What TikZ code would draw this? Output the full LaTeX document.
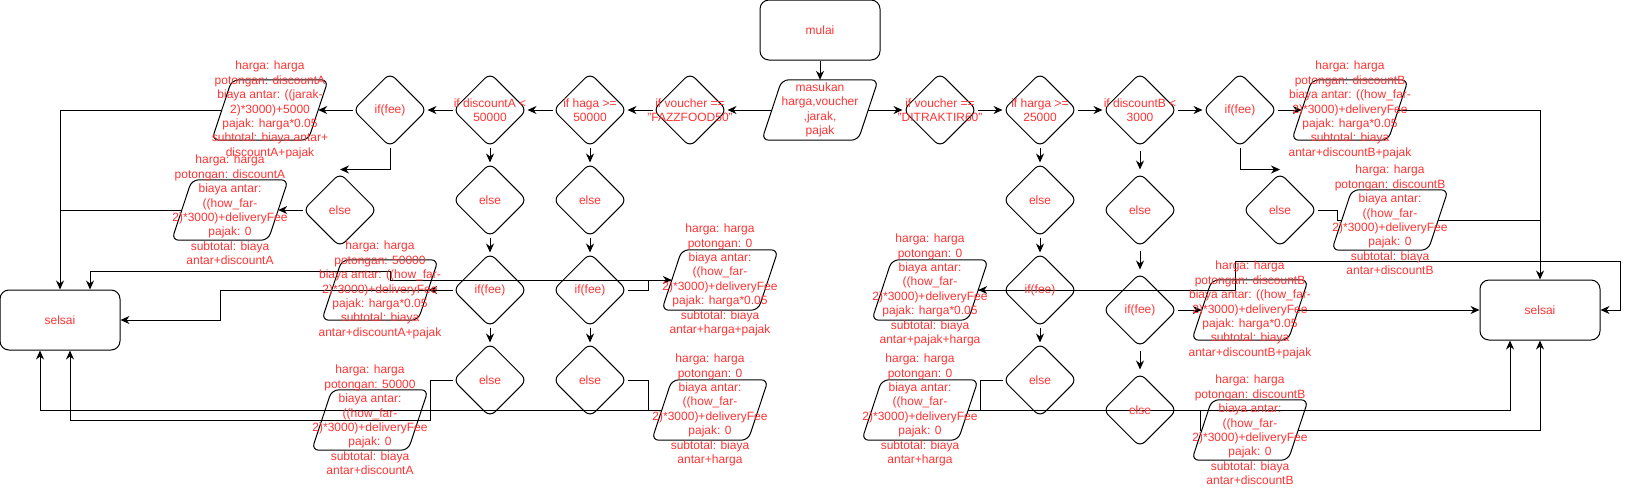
\documentclass[tikz,border=0pt]{standalone}
\usepackage{fontspec}
\setmainfont{Liberation Sans}
\usetikzlibrary{shapes.geometric,arrows.meta}
\definecolor{txtred}{RGB}{255,51,51}
\newcommand\paraoutline[1]{\draw[line width=1pt, rounded corners=7pt] (#1.north) -- ([xshift=10pt]#1.north east) -- ([xshift=-10pt]#1.south east) -- ([xshift=-10pt]#1.south west) -- ([xshift=10pt]#1.north west) -- cycle;}
\begin{document}
\begin{tikzpicture}[x=1pt,y=-1pt,
  box/.style={draw, line width=1pt, rounded corners=9pt, minimum width=120pt, minimum height=60pt, inner sep=0pt, text=txtred, font=\fontsize{12}{14.4}\selectfont},
  dia/.style={draw, line width=1pt, diamond, rounded corners=7pt, minimum width=74pt, minimum height=74pt, inner sep=0pt},
  para/.style={rectangle, minimum width=96pt, minimum height=60pt, inner sep=0pt},
  txt/.style={text=txtred, font=\fontsize{12}{14.4}\selectfont, align=center, inner sep=0pt},
  arr/.style={line width=1pt, -{Stealth[length=9pt,width=8pt]}},
  ln/.style={line width=1pt},
]
\useasboundingbox (0,0) rectangle (1629,488);
% terminals
\node[box] (mulai) at (820,30) {mulai};
\node[box] (selA) at (60,320) {selsai};
\node[box] (selB) at (1540,310) {selsai};
% input
\node[para] (inp) at (820,110) {};
% left decision row
\node[dia] (dFazz) at (690,110) {};
\node[dia] (dHaga) at (590,110) {};
\node[dia] (dDiscA) at (490,110) {};
\node[dia] (dFeeA) at (390,110) {};
\node[para] (a1) at (270,110) {};
\node[dia] (eA) at (340,210) {};
\node[para] (a2) at (230,210) {};
\node[dia] (eA2) at (490,200) {};
\node[dia] (fA2) at (490,290) {};
\node[dia] (eA3) at (490,380) {};
\node[dia] (eH1) at (590,200) {};
\node[dia] (fH) at (590,290) {};
\node[dia] (eH2) at (590,380) {};
\node[para] (a3) at (380,290) {};
\node[para] (a4) at (370,420) {};
\node[para] (c1) at (720,280) {};
\node[para] (c2) at (710,410) {};
% right decision row
\node[dia] (dDit) at (940,110) {};
\node[dia] (dHarga) at (1040,110) {};
\node[dia] (dDiscB) at (1140,110) {};
\node[dia] (dFeeB) at (1240,110) {};
\node[para] (b1) at (1350,110) {};
\node[dia] (eB) at (1280,210) {};
\node[para] (b2) at (1390,220) {};
\node[dia] (eR1) at (1040,200) {};
\node[dia] (fR) at (1040,290) {};
\node[dia] (eR2) at (1040,380) {};
\node[para] (d1) at (930,290) {};
\node[para] (d2) at (920,410) {};
\node[dia] (eD1) at (1140,210) {};
\node[dia] (fD) at (1140,310) {};
\node[dia] (eD2) at (1140,410) {};
\node[para] (b3) at (1250,310) {};
\node[para] (b4) at (1250,430) {};
\foreach \p in {inp,a1,a2,a3,a4,c1,c2,b1,b2,b3,b4,d1,d2} {\paraoutline{\p}}
% edges left
\draw[arr] (mulai) -- (inp);
\draw[arr] (inp) -- (dFazz);
\draw[arr] (dFazz) -- (dHaga);
\draw[arr] (dHaga) -- (dDiscA);
\draw[arr] (dDiscA) -- (dFeeA);
\draw[arr] (dFeeA) -- (a1);
\draw[arr] (dFeeA.south) |- ([yshift=3pt]eA.north);
\draw[arr] (eA) -- (a2);
\draw[arr] (a1.west) -| (selA.north);
\draw[ln] (a2.west) -- (a2.west -| selA.north);
\draw[arr] (dDiscA) -- (eA2);
\draw[arr] (eA2) -- (fA2);
\draw[arr] (fA2) -- (eA3);
\draw[arr] (dHaga) -- (eH1);
\draw[arr] (eH1) -- (fH);
\draw[arr] (fH) -- (eH2);
\draw[arr] (fA2) -- (a3);
\draw[arr] (a3.east) -- (220,290) |- (selA.east);
\draw[arr] (eA3.west) -| (430,420) -| ([xshift=10pt]selA.south);
\draw[arr] (fH.east) -- ++(21,0) |- (c1.west);
\draw[arr] (c1.west) -| (390,271) -| ([xshift=30pt]selA.north);
\draw[ln] (eH2.east) -- ++(21,0) |- (c2.west);
\draw[arr] (c2.west) -| ([xshift=-20pt]selA.south);
% edges right
\draw[arr] (inp) -- (dDit);
\draw[arr] (dDit) -- (dHarga);
\draw[arr] (dHarga) -- (dDiscB);
\draw[arr] (dDiscB) -- (dFeeB);
\draw[arr] (dFeeB) -- (b1);
\draw[arr] (dFeeB.south) |- ([yshift=3pt]eB.north);
\draw[ln] (eB.east) -- ++(20,0) |- (b2.west);
\draw[arr] (b1.east) -| (selB.north);
\draw[ln] (b2.east) -- (b2.east -| selB.north);
\draw[arr] (dHarga) -- (eR1);
\draw[arr] (eR1) -- (fR);
\draw[arr] (fR) -- (eR2);
\draw[arr] (fR) -- (d1);
\draw[arr] (d1.east) -| (1235,261) -| (1620,310) -- (selB.east);
\draw[ln] (eR2.west) -| (980,410) -- (d2.east);
\draw[arr] (d2.east) -| ([xshift=-30pt]selB.south);
\draw[arr, shorten <=3pt, shorten >=3pt] (dDiscB) -- (eD1);
\draw[arr, shorten <=3pt, shorten >=3pt] (eD1) -- (fD);
\draw[arr, shorten <=3pt, shorten >=3pt] (fD) -- (eD2);
\draw[arr] (fD) -- (b3);
\draw[arr] (b3) -- (selB);
\draw[ln] (eD2.east) -- ++(23,0) |- (b4.west);
\draw[arr] (b4.east) -| (selB.south);
% texts
\node[txt] (inpt) at (inp) {masukan\\harga,voucher\\,jarak,\\pajak};
\node[txt] (dFazzt) at (dFazz) {if voucher ==\\"FAZZFOOD50"};
\node[txt] (dHagat) at (dHaga) {if haga >=\\50000};
\node[txt] (dDiscAt) at (dDiscA) {if discountA <\\50000};
\node[txt] (dFeeAt) at (dFeeA) {if(fee)};
\node[txt] (eAt) at (eA) {else};
\node[txt] (eA2t) at (eA2) {else};
\node[txt] (fA2t) at (fA2) {if(fee)};
\node[txt] (eA3t) at (eA3) {else};
\node[txt] (eH1t) at (eH1) {else};
\node[txt] (fHt) at (fH) {if(fee)};
\node[txt] (eH2t) at (eH2) {else};
\node[txt] (dDitt) at (dDit) {if voucher ==\\"DITRAKTIR60"};
\node[txt] (dHargat) at (dHarga) {if harga >=\\25000};
\node[txt] (dDiscBt) at (dDiscB) {if discountB <\\3000};
\node[txt] (dFeeBt) at (dFeeB) {if(fee)};
\node[txt] (eBt) at (eB) {else};
\node[txt] (eR1t) at (eR1) {else};
\node[txt] (fRt) at (fR) {if(fee)};
\node[txt] (eR2t) at (eR2) {else};
\node[txt] (eD1t) at (eD1) {else};
\node[txt] (fDt) at (fD) {if(fee)};
\node[txt] (eD2t) at (eD2) {else};
\node[txt] (a1t) at (a1) {harga: harga\\potongan: discountA\\biaya antar: ((jarak-\\2)*3000)+5000\\pajak: harga*0.05\\subtotal: biaya antar+\\discountA+pajak};
\node[txt] (a2t) at (a2) {harga: harga\\potongan: discountA\\biaya antar:\\((how\_far-\\2)*3000)+deliveryFee\\pajak: 0\\subtotal: biaya\\antar+discountA};
\node[txt] (a3t) at (a3) {harga: harga\\potongan: 50000\\biaya antar: ((how\_far-\\2)*3000)+deliveryFee\\pajak: harga*0.05\\subtotal: biaya\\antar+discountA+pajak};
\node[txt] (a4t) at (a4) {harga: harga\\potongan: 50000\\biaya antar:\\((how\_far-\\2)*3000)+deliveryFee\\pajak: 0\\subtotal: biaya\\antar+discountA};
\node[txt] (c1t) at (c1) {harga: harga\\potongan: 0\\biaya antar:\\((how\_far-\\2)*3000)+deliveryFee\\pajak: harga*0.05\\subtotal: biaya\\antar+harga+pajak};
\node[txt] (c2t) at (c2) {harga: harga\\potongan: 0\\biaya antar:\\((how\_far-\\2)*3000)+deliveryFee\\pajak: 0\\subtotal: biaya\\antar+harga};
\node[txt] (d1t) at (d1) {harga: harga\\potongan: 0\\biaya antar:\\((how\_far-\\2)*3000)+deliveryFee\\pajak: harga*0.05\\subtotal: biaya\\antar+pajak+harga};
\node[txt] (d2t) at (d2) {harga: harga\\potongan: 0\\biaya antar:\\((how\_far-\\2)*3000)+deliveryFee\\pajak: 0\\subtotal: biaya\\antar+harga};
\node[txt] (b1t) at (b1) {harga: harga\\potongan: discountB\\biaya antar: ((how\_far-\\2)*3000)+deliveryFee\\pajak: harga*0.05\\subtotal: biaya\\antar+discountB+pajak};
\node[txt] (b2t) at (b2) {harga: harga\\potongan: discountB\\biaya antar:\\((how\_far-\\2)*3000)+deliveryFee\\pajak: 0\\subtotal: biaya\\antar+discountB};
\node[txt] (b3t) at (b3) {harga: harga\\potongan: discountB\\biaya antar: ((how\_far-\\2)*3000)+deliveryFee\\pajak: harga*0.05\\subtotal: biaya\\antar+discountB+pajak};
\node[txt] (b4t) at (b4) {harga: harga\\potongan: discountB\\biaya antar:\\((how\_far-\\2)*3000)+deliveryFee\\pajak: 0\\subtotal: biaya\\antar+discountB};
\end{tikzpicture}
\end{document}
